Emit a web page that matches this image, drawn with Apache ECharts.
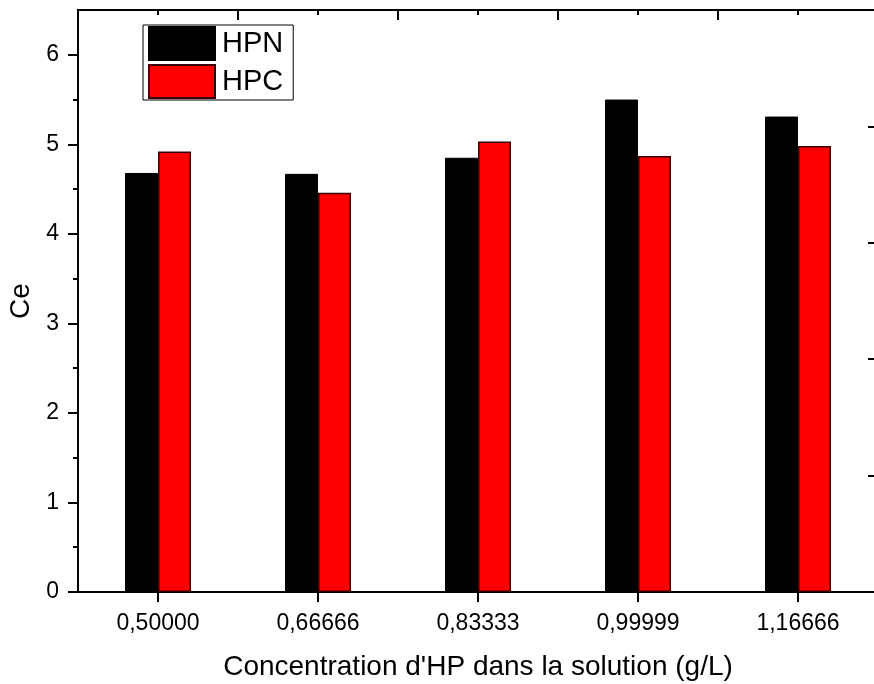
<!DOCTYPE html>
<html>
<head>
<meta charset="utf-8">
<script src="https://cdn.jsdelivr.net/npm/echarts@6/dist/echarts.min.js"></script>
<style>
  html, body { margin: 0; padding: 0; background: #fff; }
  #chart { width: 874px; height: 684px; }
</style>
</head>
<body>
<div id="chart"></div>
<script>
var categories = ['0,50000', '0,66666', '0,83333', '0,99999', '1,16666']
var hpn = [4.68, 4.67, 4.85, 5.50, 5.31]
var hpc = [4.92, 4.46, 5.03, 4.87, 4.98]
var yTicks = [0, 1, 2, 3, 4, 5, 6]
var yMinorTicks = [0.5, 1.5, 2.5, 3.5, 4.5, 5.5]

var font = 'Liberation Sans'

var chart = echarts.init(document.getElementById('chart'))
var gridBox = { left: 78, width: 800, top: 10, bottom: 92, outerBoundsMode: 'none', containLabel: false }

chart.setOption({
  animation: false,
  backgroundColor: '#fff',
  textStyle: { fontFamily: font, color: '#000' },
  grid: [
    Object.assign({}, gridBox),
    Object.assign({}, gridBox),
    Object.assign({}, gridBox)
  ],
  legend: {
    left: 143,
    top: 25,
    orient: 'vertical',
    itemWidth: 66,
    itemHeight: 33,
    itemGap: 3,
    padding: [1, 10, 1, 5],
    borderColor: '#000',
    borderWidth: 1,
    textStyle: { fontSize: 29, fontFamily: font, color: '#000', padding: [0, 0, 0, 2] },
    data: [
      { name: 'HPN', icon: 'rect' },
      { name: 'HPC', icon: 'rect' }
    ]
  },
  xAxis: [{
    type: 'category',
    gridIndex: 0,
    position: 'bottom',
    data: categories,
    name: "Concentration d'HP dans la solution (g/L)",
    nameLocation: 'middle',
    nameGap: 61,
    nameTextStyle: { fontSize: 28, fontFamily: font, color: '#000' },
    axisLine: { show: true, lineStyle: { color: '#000', width: 2 } },
    axisTick: { show: false },
    axisLabel: { fontSize: 23, fontFamily: font, color: '#000', margin: 20 },
    splitLine: { show: false }
  }, {
    // top axis: long ticks between groups, short ones in the middle
    type: 'value',
    gridIndex: 1,
    position: 'top',
    min: 0,
    max: 5,
    interval: 1,
    axisLine: { show: true, onZero: false, lineStyle: { color: '#000', width: 2 } },
    axisTick: { show: true, inside: true, length: 10, lineStyle: { width: 2, color: '#000' } },
    minorTick: { show: true, splitNumber: 2, length: 5, lineStyle: { width: 2, color: '#000' } },
    axisLabel: { show: false },
    splitLine: { show: false },
    minorSplitLine: { show: false }
  }, {
    // ticks under each group: the half-way minor ticks of a 0..5 scale
    type: 'value',
    gridIndex: 2,
    position: 'bottom',
    min: 0,
    max: 5,
    interval: 1,
    axisLine: { show: true, onZero: false, lineStyle: { color: '#000', width: 2 } },
    axisTick: { show: false },
    minorTick: { show: true, splitNumber: 2, length: 10, lineStyle: { width: 2, color: '#000' } },
    axisLabel: { show: false },
    splitLine: { show: false },
    minorSplitLine: { show: false }
  }],
  yAxis: [{
    type: 'value',
    gridIndex: 0,
    position: 'left',
    min: 0,
    max: 6.5,
    interval: 1,
    name: 'Ce',
    nameLocation: 'middle',
    nameGap: 42,
    nameRotate: 90,
    nameTextStyle: { fontSize: 28, fontFamily: font, color: '#000' },
    axisLine: { show: true, lineStyle: { color: '#000', width: 2 } },
    axisTick: { show: true, length: 10, customValues: yTicks, lineStyle: { width: 2, color: '#000' } },
    axisLabel: { fontSize: 23, fontFamily: font, color: '#000', margin: 19, customValues: yTicks },
    splitLine: { show: false }
  }, {
    // unlabelled right axis
    type: 'value',
    gridIndex: 0,
    position: 'right',
    min: 0,
    max: 5,
    interval: 1,
    axisLine: { show: true, lineStyle: { color: '#000', width: 2 } },
    axisTick: { show: true, inside: true, length: 10, lineStyle: { width: 2, color: '#000' } },
    axisLabel: { show: false },
    splitLine: { show: false }
  }, {
    // minor ticks on the left axis
    type: 'value',
    gridIndex: 1,
    position: 'left',
    min: 0,
    max: 6.5,
    axisLine: { show: false, onZero: false },
    axisTick: { show: true, length: 5, customValues: yMinorTicks, lineStyle: { width: 2, color: '#000' } },
    axisLabel: { show: false },
    splitLine: { show: false }
  }, {
    type: 'value',
    gridIndex: 2,
    position: 'left',
    min: 0,
    max: 1,
    axisLine: { show: false, onZero: false },
    axisTick: { show: false },
    axisLabel: { show: false },
    splitLine: { show: false }
  }],
  series: [{
    name: 'HPN',
    type: 'bar',
    xAxisIndex: 0,
    yAxisIndex: 0,
    barWidth: 33,
    barGap: '0%',
    data: hpn,
    itemStyle: { color: '#000', borderColor: '#000', borderWidth: 1 }
  }, {
    name: 'HPC',
    type: 'bar',
    xAxisIndex: 0,
    yAxisIndex: 0,
    barWidth: 33,
    barGap: '0%',
    data: hpc,
    itemStyle: { color: '#ff0000', borderColor: '#3a0000', borderWidth: 1.5 }
  }]
})
</script>
</body>
</html>
